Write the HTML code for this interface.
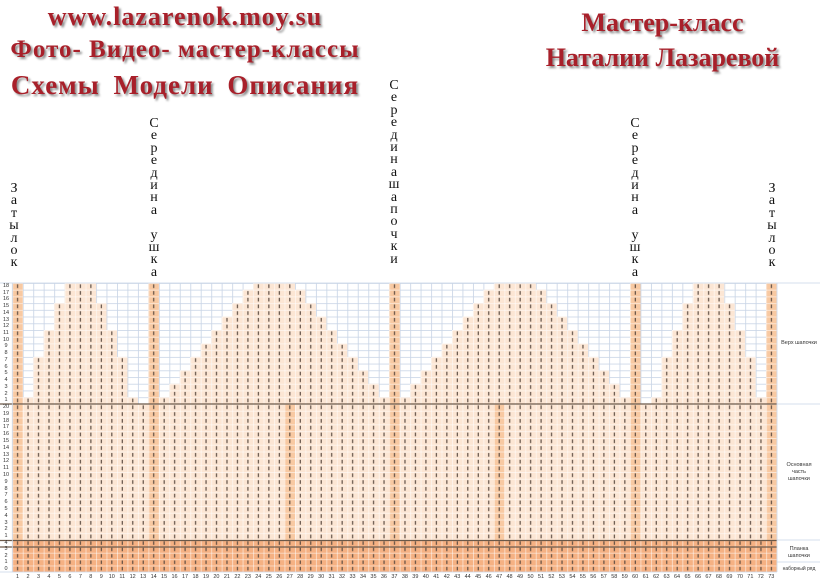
<!DOCTYPE html>
<html><head><meta charset="utf-8">
<style>
body{margin:0;width:820px;height:582px;background:#fff;position:relative;overflow:hidden;font-family:"Liberation Sans",sans-serif}
.h{position:absolute;font-family:"Liberation Serif",serif;font-weight:bold;color:#a8202a;text-shadow:2px 2px 2px #8a8a8a;white-space:nowrap;font-size:25px;text-align:center}
.v{position:absolute;font-family:"Liberation Serif",serif;font-size:14px;line-height:12.4px;text-align:center;width:16px;color:#111}
.rn{position:absolute;left:0;width:12px;font-size:5.5px;text-align:center;color:#333}
.rn div{overflow:hidden}
.cn{position:absolute;left:12.3px;top:572px;display:flex;font-size:5.5px;color:#333}
.cn span{width:10.47px;text-align:center;line-height:10px}
.lab{position:absolute;left:778px;width:42px;font-size:5.5px;text-align:center;color:#333;line-height:7px}
</style></head><body>
<div class="h" style="left:0;width:370px;top:2px;font-size:26px;letter-spacing:1px">www.lazarenok.moy.su</div>
<div class="h" style="left:0;width:370px;top:36px;letter-spacing:1px">Фото- Видео- мастер-классы</div>
<div class="h" style="left:0;width:370px;top:70px;font-size:27px;letter-spacing:1px;word-spacing:6px">Схемы Модели Описания</div>
<div class="h" style="left:540px;width:245px;top:8px;font-size:26px">Мастер-класс</div>
<div class="h" style="left:540px;width:245px;top:43px;font-size:26px">Наталии Лазаревой</div>

<div class="v" style="left:6px;top:183px">З<br>а<br>т<br>ы<br>л<br>о<br>к</div>
<div class="v" style="left:764px;top:183px">З<br>а<br>т<br>ы<br>л<br>о<br>к</div>
<div class="v" style="left:146px;top:118px">С<br>е<br>р<br>е<br>д<br>и<br>н<br>а<br><br>у<br>ш<br>к<br>а</div>
<div class="v" style="left:627px;top:118px">С<br>е<br>р<br>е<br>д<br>и<br>н<br>а<br><br>у<br>ш<br>к<br>а</div>
<div class="v" style="left:386px;top:80px">С<br>е<br>р<br>е<br>д<br>и<br>н<br>а<br>ш<br>а<br>п<br>о<br>ч<br>к<br>и</div>

<svg width="820" height="582" style="position:absolute;left:0;top:0">
<defs>
<pattern id="grid" width="1" height="1" patternUnits="userSpaceOnUse"><rect x="0" y="0" width="0.08" height="1" fill="#c9d5e6"/><rect x="0" y="0" width="1" height="0.12" fill="#c9d5e6"/></pattern>
<pattern id="gridw" width="1" height="1" patternUnits="userSpaceOnUse"><rect x="0" y="0" width="0.08" height="1" fill="#fff" opacity="0.6"/><rect x="0" y="0" width="1" height="0.12" fill="#fff" opacity="0.6"/></pattern>
<pattern id="dash" width="1" height="1" patternUnits="userSpaceOnUse"><rect x="0.45" y="0.2" width="0.11" height="0.55" fill="#5a4a40"/></pattern>
<g id="shape">
<rect x="1" y="17" width="1" height="1"/><rect x="2" y="11" width="1" height="7"/><rect x="3" y="7" width="1" height="11"/><rect x="4" y="3" width="1" height="15"/><rect x="5" y="0" width="3" height="18"/><rect x="8" y="3" width="1" height="15"/><rect x="9" y="7" width="1" height="11"/><rect x="10" y="11" width="1" height="7"/><rect x="11" y="17" width="1" height="1"/>
<rect x="14" y="17" width="1" height="1"/><rect x="15" y="15" width="1" height="3"/><rect x="16" y="13" width="1" height="5"/><rect x="17" y="11" width="1" height="7"/><rect x="18" y="9" width="1" height="9"/><rect x="19" y="7" width="1" height="11"/><rect x="20" y="5" width="1" height="13"/><rect x="21" y="3" width="1" height="15"/><rect x="22" y="1" width="1" height="17"/><rect x="23" y="0" width="4" height="18"/><rect x="27" y="1" width="1" height="17"/><rect x="28" y="3" width="1" height="15"/><rect x="29" y="5" width="1" height="13"/><rect x="30" y="7" width="1" height="11"/><rect x="31" y="9" width="1" height="9"/><rect x="32" y="11" width="1" height="7"/><rect x="33" y="13" width="1" height="5"/><rect x="34" y="15" width="1" height="3"/><rect x="35" y="17" width="1" height="1"/>
<rect x="37" y="17" width="1" height="1"/><rect x="38" y="15" width="1" height="3"/><rect x="39" y="13" width="1" height="5"/><rect x="40" y="11" width="1" height="7"/><rect x="41" y="9" width="1" height="9"/><rect x="42" y="7" width="1" height="11"/><rect x="43" y="5" width="1" height="13"/><rect x="44" y="3" width="1" height="15"/><rect x="45" y="1" width="1" height="17"/><rect x="46" y="0" width="4" height="18"/><rect x="50" y="1" width="1" height="17"/><rect x="51" y="3" width="1" height="15"/><rect x="52" y="5" width="1" height="13"/><rect x="53" y="7" width="1" height="11"/><rect x="54" y="9" width="1" height="9"/><rect x="55" y="11" width="1" height="7"/><rect x="56" y="13" width="1" height="5"/><rect x="57" y="15" width="1" height="3"/><rect x="58" y="17" width="1" height="1"/>
<rect x="61" y="17" width="1" height="1"/><rect x="62" y="11" width="1" height="7"/><rect x="63" y="7" width="1" height="11"/><rect x="64" y="3" width="1" height="15"/><rect x="65" y="0" width="3" height="18"/><rect x="68" y="3" width="1" height="15"/><rect x="69" y="7" width="1" height="11"/><rect x="70" y="11" width="1" height="7"/><rect x="71" y="17" width="1" height="1"/>
<rect x="0" y="0" width="1" height="18"/><rect x="13" y="0" width="1" height="18"/><rect x="36" y="0" width="1" height="18"/><rect x="59" y="0" width="1" height="18"/><rect x="72" y="0" width="1" height="18"/>
</g>
</defs>
<g transform="translate(12.3,283) scale(10.47,6.72)">
<rect x="0" y="0" width="73" height="18" fill="url(#grid)"/>
<use href="#shape" fill="#fce6d4"/>
<g fill="#f8c9a2"><rect x="0" y="0" width="1" height="18"/><rect x="13" y="0" width="1" height="18"/><rect x="36" y="0" width="1" height="18"/><rect x="59" y="0" width="1" height="18"/><rect x="72" y="0" width="1" height="18"/></g>
<use href="#shape" fill="url(#gridw)"/>
<use href="#shape" fill="url(#dash)"/>
</g>
<g transform="translate(12.3,404) scale(10.47,6.8)">
<rect x="0" y="0" width="73" height="20" fill="#fce6d4"/>
<g fill="#f8c9a2"><rect x="0" y="0" width="1" height="20"/><rect x="13" y="0" width="1" height="20"/><rect x="26" y="0" width="1" height="20"/><rect x="36" y="0" width="1" height="20"/><rect x="46" y="0" width="1" height="20"/><rect x="59" y="0" width="1" height="20"/><rect x="72" y="0" width="1" height="20"/></g>
<rect x="0" y="0" width="73" height="20" fill="url(#gridw)"/>
<rect x="0" y="0" width="73" height="20" fill="url(#dash)"/>
</g>
<g transform="translate(12.3,540) scale(10.47,6.4)">
<rect x="0" y="0" width="73" height="5" fill="#f5b183"/>
<rect x="0" y="0" width="73" height="5" fill="url(#gridw)"/>
<rect x="0" y="0" width="73" height="5" fill="url(#dash)"/>
</g>
<g stroke="#6b5848" stroke-width="1.3">
<line x1="0" y1="404" x2="777" y2="404"/>
<line x1="0" y1="540.5" x2="777" y2="540.5"/>
<line x1="0" y1="547" x2="777" y2="547"/>
</g>
<g stroke="#c9d5e6" stroke-width="0.8">
<line x1="777" y1="283" x2="777" y2="572"/>
<line x1="777" y1="404" x2="820" y2="404"/>
<line x1="777" y1="540" x2="820" y2="540"/>
<line x1="777" y1="562" x2="820" y2="562"/>
<line x1="0" y1="283" x2="820" y2="283"/>
<line x1="12.3" y1="283" x2="12.3" y2="572"/>
<line x1="0" y1="572" x2="777" y2="572"/>
</g>
</svg>

<div class="rn" style="top:283px;line-height:6.72px"><div>18</div><div>17</div><div>16</div><div>15</div><div>14</div><div>13</div><div>12</div><div>11</div><div>10</div><div>9</div><div>8</div><div>7</div><div>6</div><div>5</div><div>4</div><div>3</div><div>2</div><div>1</div></div>
<div class="rn" style="top:404px;line-height:6.8px"><div>20</div><div>19</div><div>18</div><div>17</div><div>16</div><div>15</div><div>14</div><div>13</div><div>12</div><div>11</div><div>10</div><div>9</div><div>8</div><div>7</div><div>6</div><div>5</div><div>4</div><div>3</div><div>2</div><div>1</div></div>
<div class="rn" style="top:540px;line-height:6.4px"><div>4</div><div>3</div><div>2</div><div>1</div><div>0</div></div>
<div class="cn"><span>1</span><span>2</span><span>3</span><span>4</span><span>5</span><span>6</span><span>7</span><span>8</span><span>9</span><span>10</span><span>11</span><span>12</span><span>13</span><span>14</span><span>15</span><span>16</span><span>17</span><span>18</span><span>19</span><span>20</span><span>21</span><span>22</span><span>23</span><span>24</span><span>25</span><span>26</span><span>27</span><span>28</span><span>29</span><span>30</span><span>31</span><span>32</span><span>33</span><span>34</span><span>35</span><span>36</span><span>37</span><span>38</span><span>39</span><span>40</span><span>41</span><span>42</span><span>43</span><span>44</span><span>45</span><span>46</span><span>47</span><span>48</span><span>49</span><span>50</span><span>51</span><span>52</span><span>53</span><span>54</span><span>55</span><span>56</span><span>57</span><span>58</span><span>59</span><span>60</span><span>61</span><span>62</span><span>63</span><span>64</span><span>65</span><span>66</span><span>67</span><span>68</span><span>69</span><span>70</span><span>71</span><span>72</span><span>73</span></div>
<div class="lab" style="top:340px">Верх шапочки</div>
<div class="lab" style="top:462px">Основная<br>часть<br>шапочки</div>
<div class="lab" style="top:546px">Планка<br>шапочки</div>
<div class="lab" style="top:566px;font-size:5px">наборный ряд</div>
</body></html>
